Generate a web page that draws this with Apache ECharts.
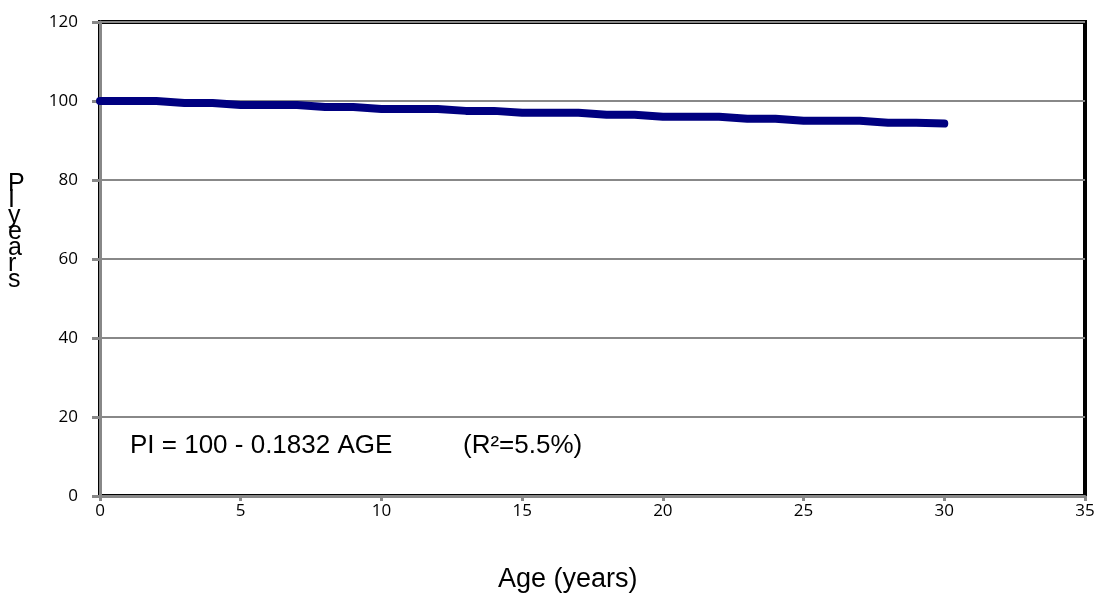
<!DOCTYPE html>
<html>
<head>
<meta charset="utf-8">
<script src="https://cdn.jsdelivr.net/npm/echarts@6/dist/echarts.min.js"></script>
<style>html,body{margin:0;padding:0;background:#fff}#c{width:1098px;height:602px}</style>
</head>
<body>
<div id="c"></div>
<script>
var ages = [0,1,2,3,4,5,6,7,8,9,10,11,12,13,14,15,16,17,18,19,20,21,22,23,24,25,26,27,28,29,30];
var piValues = [100,100,100,99.5,99.5,99,99,99,98.5,98.5,98,98,98,97.5,97.5,97,97,97,96.5,96.5,96,96,96,95.5,95.5,95,95,95,94.5,94.5,94.3];
var xTicks = {min:0, max:35, interval:5};
var yTicks = {min:0, max:120, interval:20};
var xTitle = 'Age (years)';
var yTitleLetters = ['P','I','y','e','a','r','s'];
var equationText = 'PI = 100 - 0.1832 AGE';
var r2Text = '(R\u00B2=5.5%)';

var chart = echarts.init(document.getElementById('c'));
chart.setOption({
  animation:false,
  backgroundColor:'#fff',
  grid:{left:100, right:13, top:22, bottom:106, show:true, borderColor:'#000', borderWidth:4, backgroundColor:'transparent'},
  xAxis:{type:'value', min:xTicks.min, max:xTicks.max, interval:xTicks.interval,
    axisLine:{show:true, onZero:false, lineStyle:{color:'#888', width:3}},
    axisTick:{show:true, length:5, lineStyle:{color:'#888', width:3}},
    axisLabel:{fontFamily:'Open Sans', fontSize:17, color:'#000', margin:7},
    splitLine:{show:false}},
  yAxis:{type:'value', min:yTicks.min, max:yTicks.max, interval:yTicks.interval,
    axisLine:{show:true, onZero:false, lineStyle:{color:'#888', width:3}},
    axisTick:{show:true, length:8, lineStyle:{color:'#888', width:3}},
    axisLabel:{fontFamily:'Open Sans', fontSize:17, color:'#000', margin:22},
    splitLine:{show:true, lineStyle:{color:'#888', width:2}}},
  graphic:[
    {type:'text', left:8, top:172, style:{text:yTitleLetters.join('\n'), font:'25px "Liberation Sans"', fill:'#000', lineHeight:16, textAlign:'left'}},
    {type:'text', left:130, top:433, style:{text:equationText, font:'26px "Liberation Sans"', fill:'#000'}},
    {type:'text', left:463, top:433, style:{text:r2Text, font:'26px "Liberation Sans"', fill:'#000'}},
    {type:'text', left:498, top:566, style:{text:xTitle, font:'27px "Liberation Sans"', fill:'#000'}}
  ],
  series:[{type:'line', data:ages.map(function(a,i){return [a, piValues[i]];}),
    showSymbol:false, smooth:false,
    lineStyle:{color:'#000080', width:8, cap:'round', join:'round'}, z:5}]
});
</script>
</body>
</html>
